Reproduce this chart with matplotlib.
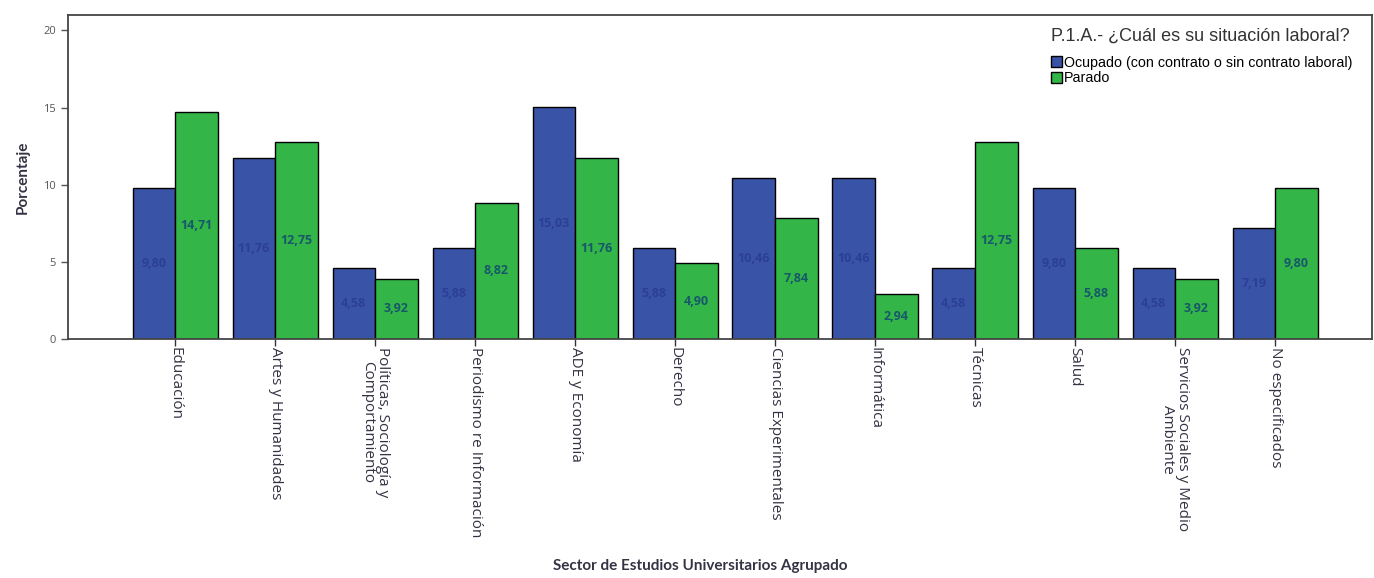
#!/usr/bin/env python3

import matplotlib
matplotlib.use('Agg')
import matplotlib.pyplot as plt
import numpy as np

categorias = ['Educación', 'Artes y Humanidades', 'Políticas, Sociología y\nComportamiento',
              'Periodismo re Información', 'ADE y Economía', 'Derecho',
              'Ciencias Experimentales', 'Informática', 'Técnicas', 'Salud',
              'Servicios Sociales y Medio\nAmbiente', 'No especificados']
ocupado = [9.80, 11.76, 4.58, 5.88, 15.03, 5.88, 10.46, 10.46, 4.58, 9.80, 4.58, 7.19]
parado = [14.71, 12.75, 3.92, 8.82, 11.76, 4.90, 7.84, 2.94, 12.75, 5.88, 3.92, 9.80]
series = ['Ocupado (con contrato o sin contrato laboral)', 'Parado']

c_blue = '#3953a6'
c_green = '#33b548'

fig = plt.figure(figsize=(13.74, 5.78), dpi=100)
ax = fig.add_axes([68/1374, 1 - 339/578, (1372 - 68)/1374, (339 - 15)/578])

x = np.arange(len(categorias))
w = 0.425

b1 = ax.bar(x - w/2, ocupado, w, color=c_blue, edgecolor='black', linewidth=1.0, label=series[0])
b2 = ax.bar(x + w/2, parado, w, color=c_green, edgecolor='black', linewidth=1.0, label=series[1])

for xi, v in zip(x, ocupado):
    ax.text(xi - w/2, v/2, f'{v:.2f}'.replace('.', ','), ha='center', va='center',
            fontsize=9, color='#2b3f96', fontweight='bold', family='Open Sans')
for xi, v in zip(x, parado):
    ax.text(xi + w/2, v/2, f'{v:.2f}'.replace('.', ','), ha='center', va='center',
            fontsize=9, color='#17586a', fontweight='bold', family='Open Sans')

ax.set_xlim(-1.07, 11.97)
ax.set_ylim(0, 21)
ax.set_yticks([0, 5, 10, 15, 20])
ax.tick_params(axis='y', labelsize=8, colors='#555555', length=5, width=1)
ax.tick_params(axis='x', length=5, width=1, pad=1, color='#333333')
ax.set_xticks(x)
ax.set_xticklabels(categorias, rotation=-90, fontsize=11, family='Open Sans',
                   color='#333344', va='top', ha='center', linespacing=0.95)
for lab in ax.get_yticklabels():
    lab.set_family('Open Sans')

for s in ax.spines.values():
    s.set_color('#444444')
    s.set_linewidth(1.3)

ax.set_ylabel('Porcentaje', fontsize=11, fontweight='bold', family='Lato', color='#333344', labelpad=10)
fig.text(0.51, 0.02, 'Sector de Estudios Universitarios Agrupado', ha='center', va='center',
         fontsize=11, fontweight='bold', family='Lato', color='#333344')

leg = ax.legend(loc='upper right', bbox_to_anchor=(0.993, 0.992), frameon=False,
                title='P.1.A.- ¿Cuál es su situación laboral?',
                prop={'family': 'Liberation Sans', 'size': 10.3},
                handlelength=0.8, handleheight=0.8, handletextpad=0.15,
                labelspacing=0.12, borderaxespad=0.3)
leg.get_title().set_fontsize(13)
leg.get_title().set_family('Liberation Sans')
leg.get_title().set_color('#333333')
leg._legend_box.align = 'left'
leg._legend_box.sep = 8

plt.savefig('out.png', dpi=100)
